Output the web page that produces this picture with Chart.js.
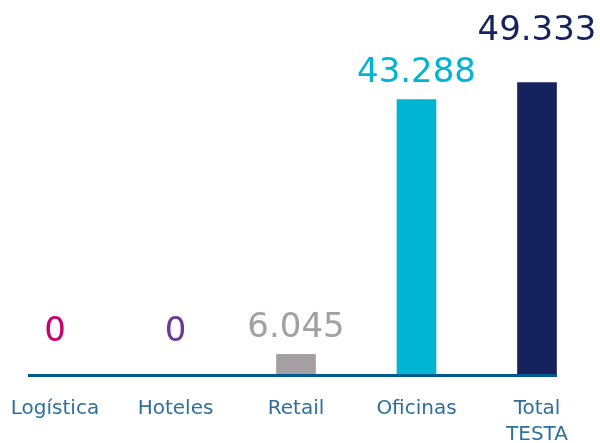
<!DOCTYPE html>
<html>
<head>
<meta charset="utf-8">
<script src="https://cdn.jsdelivr.net/npm/chart.js@4"></script>
<style>
  html, body { margin: 0; padding: 0; background: #ffffff; }
  #wrap { width: 600px; height: 443px; }
</style>
</head>
<body>
<div id="wrap"><canvas id="chart"></canvas></div>
<script>
// ==========================================
// DATA
// ==========================================

const categories = ['Logística', 'Hoteles', 'Retail', 'Oficinas', ['Total', 'TESTA']];

const values = [0, 0, 6045, 43288, 49333];

const valueLabels = ['0', '0', '6.045', '43.288', '49.333'];

const barColors = ['#c8006e', '#6b3a96', '#a59ea3', '#00b4d3', '#15225e'];

// ==========================================
// PLUGINS
// ==========================================

const baseLine = {
    id: 'baseLine',
    afterDatasetsDraw(chart) {
        const {ctx, chartArea} = chart;
        ctx.save();
        ctx.strokeStyle = '#005b8e';
        ctx.lineWidth = 3;
        ctx.beginPath();
        ctx.moveTo(chartArea.left - 27, chartArea.bottom + 0.5);
        ctx.lineTo(chartArea.right + 20, chartArea.bottom + 0.5);
        ctx.stroke();
        ctx.restore();
    }
};

const valueText = {
    id: 'valueText',
    afterDatasetsDraw(chart) {
        const {ctx, chartArea, scales} = chart;
        ctx.save();
        ctx.font = '34px "DejaVu Sans"';
        ctx.textAlign = 'center';
        ctx.textBaseline = 'middle';
        values.forEach((v, i) => {
            const x = scales.x.getPixelForValue(i);
            const top = Math.min(scales.y.getPixelForValue(v), chartArea.bottom - 17);
            const lift = i === values.length - 1 ? 52 : 26;
            ctx.fillStyle = barColors[i];
            ctx.fillText(valueLabels[i], x, top - lift);
        });
        ctx.restore();
    }
};

// ==========================================
// CHART
// ==========================================

new Chart(document.getElementById('chart'), {
    type: 'bar',
    data: {
        labels: categories,
        datasets: [{
            data: values,
            backgroundColor: barColors,
            borderWidth: 0,
            barThickness: 39,
            clip: false
        }]
    },
    options: {
        responsive: true,
        maintainAspectRatio: false,
        animation: false,
        layout: {
            padding: { top: 5, left: 55, right: 63, bottom: 0 }
        },
        plugins: {
            legend: { display: false },
            tooltip: { enabled: false }
        },
        scales: {
            x: {
                offset: false,
                afterFit(scale) {
                    scale.height = 68;
                    scale.paddingLeft = 0;
                    scale.paddingRight = 0;
                },
                border: { display: false },
                grid: { display: false, drawTicks: false },
                ticks: {
                    color: '#2e6f9e',
                    padding: 21,
                    maxRotation: 0,
                    autoSkip: false,
                    font: { family: 'DejaVu Sans', size: 20, lineHeight: 1.3 }
                }
            },
            y: {
                type: 'logarithmic',
                display: false,
                bounds: 'data',
                min: 5154,
                max: 89930
            }
        }
    },
    plugins: [baseLine, valueText]
});
</script>
</body>
</html>
